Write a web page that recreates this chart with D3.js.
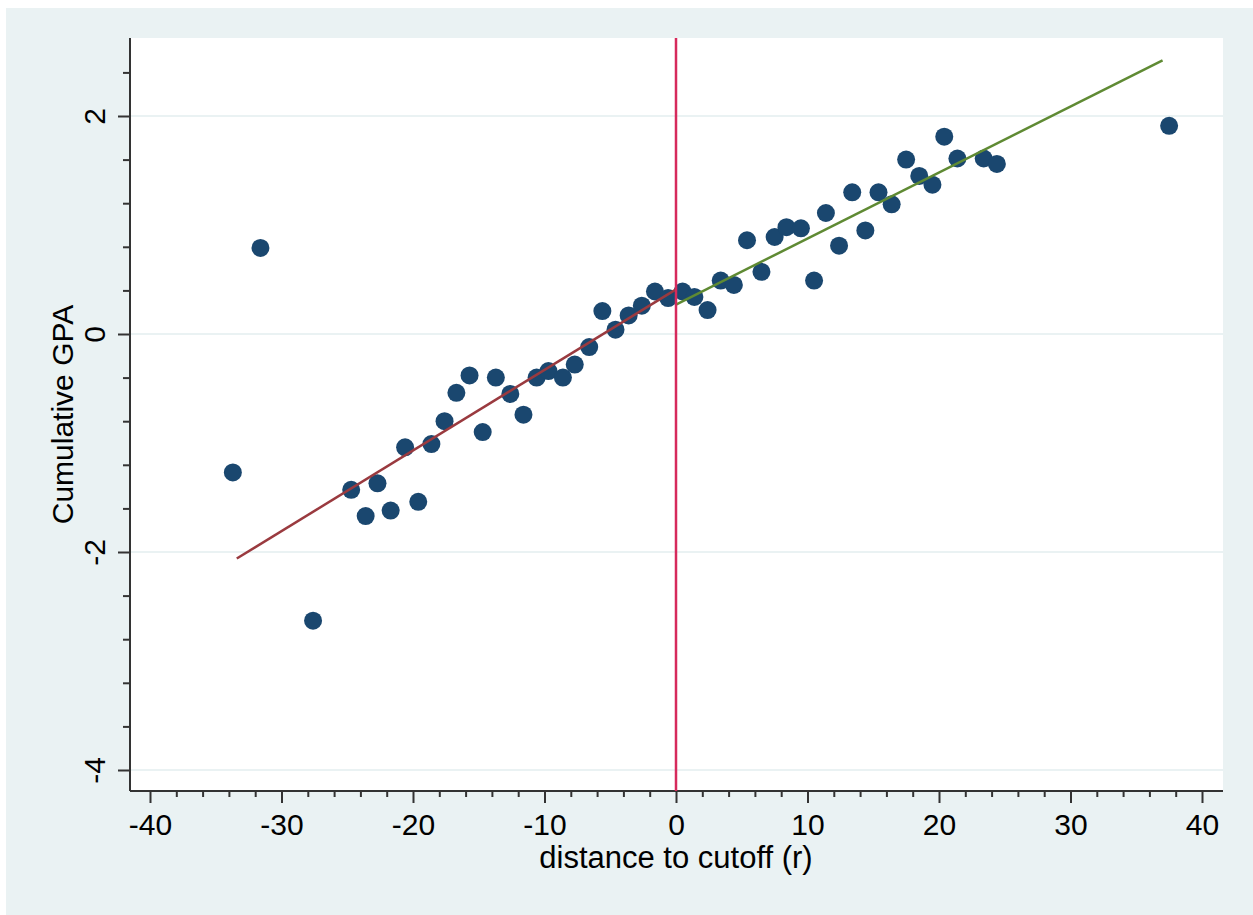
<!DOCTYPE html>
<html>
<head>
<meta charset="utf-8">
<script src="https://cdn.jsdelivr.net/npm/d3@7"></script>
<style>
  html, body { margin: 0; padding: 0; background: #fff; }
  svg { display: block; }
  text { font-family: "Liberation Sans", Arial, Helvetica, sans-serif; fill: #000; }
</style>
</head>
<body>
<svg id="chart" width="1253" height="915"></svg>
<script>
// binned means, left of cutoff
const leftX = [-33.7, -31.6, -27.6, -24.7, -23.6, -22.7, -21.7, -20.6, -19.6, -18.6,
  -17.6, -16.7, -15.7, -14.7, -13.7, -12.6, -11.6, -10.6, -9.7, -8.6,
  -7.7, -6.6, -5.6, -4.6, -3.6, -2.6, -1.6, -0.6]
const leftY = [-1.27, 0.79, -2.63, -1.43, -1.67, -1.37, -1.62, -1.04, -1.54, -1.01,
  -0.80, -0.54, -0.38, -0.90, -0.40, -0.55, -0.74, -0.40, -0.34, -0.40,
  -0.28, -0.12, 0.21, 0.04, 0.17, 0.26, 0.39, 0.33]

// binned means, right of cutoff
const rightX = [0.5, 1.4, 2.4, 3.4, 4.4, 5.4, 6.5, 7.5, 8.4, 9.5,
  10.5, 11.4, 12.4, 13.4, 14.4, 15.4, 16.4, 17.5, 18.5, 19.5,
  20.4, 21.4, 23.4, 24.4, 37.5]
const rightY = [0.39, 0.34, 0.22, 0.49, 0.45, 0.86, 0.57, 0.89, 0.98, 0.97,
  0.49, 1.11, 0.81, 1.30, 0.95, 1.30, 1.19, 1.60, 1.45, 1.37,
  1.81, 1.61, 1.61, 1.56, 1.91]

// linear fits on each side
const fitLeft = [[-33.4, -2.06], [0, 0.41]]
const fitRight = [[0, 0.27], [37.0, 2.51]]

const xTicks = [-40, -30, -20, -10, 0, 10, 20, 30, 40]
const yTicks = [-4, -2, 0, 2]

const plot = { left: 130, right: 1223, top: 38, bottom: 791 }

const svg = d3.select('#chart')

svg.append('rect')
  .attr('x', 6).attr('y', 8)
  .attr('width', 1253 - 6).attr('height', 915 - 8)
  .attr('fill', '#eaf2f3')

svg.append('rect')
  .attr('x', plot.left).attr('y', plot.top)
  .attr('width', plot.right - plot.left).attr('height', plot.bottom - plot.top)
  .attr('fill', '#fff')

const x = d3.scaleLinear().domain([-40, 40]).range([150, 1202])
const y = d3.scaleLinear().domain([-4, 2]).range([770, 116])

// grid
svg.append('g')
  .selectAll('line')
  .data(yTicks)
  .join('line')
    .attr('x1', plot.left).attr('x2', plot.right)
    .attr('y1', (d) => y(d)).attr('y2', (d) => y(d))
    .attr('stroke', '#eaf2f3')
    .attr('stroke-width', 2)

// minor ticks
const xMinor = d3.range(-40, 41, 2).filter((d) => d % 10 !== 0)
const yMinor = d3.range(-4, 2.6, 0.4).filter((d) => Math.abs(d / 2 - Math.round(d / 2)) > 1e-6)

svg.append('g')
  .attr('transform', `translate(0,${plot.bottom})`)
  .call(d3.axisBottom(x).tickValues(xMinor).tickSize(6).tickFormat(''))
  .call((g) => g.select('.domain').remove())
  .call((g) => g.selectAll('line').attr('stroke', '#333').attr('stroke-width', 2))

svg.append('g')
  .attr('transform', `translate(${plot.left},0)`)
  .call(d3.axisLeft(y).tickValues(yMinor).tickSize(7).tickFormat(''))
  .call((g) => g.select('.domain').remove())
  .call((g) => g.selectAll('line').attr('stroke', '#333').attr('stroke-width', 2))

// major axes
const xAxis = svg.append('g')
  .attr('transform', `translate(0,${plot.bottom})`)
  .call(d3.axisBottom(x).tickValues(xTicks).tickSize(12).tickPadding(11))
xAxis.select('.domain').remove()
xAxis.selectAll('line').attr('stroke', '#333').attr('stroke-width', 2)
xAxis.selectAll('text')
  .attr('font-size', 30)
  .attr('font-family', '"Liberation Sans", Arial, sans-serif')
  .text((d) => d)

const yAxis = svg.append('g')
  .attr('transform', `translate(${plot.left},0)`)
  .call(d3.axisLeft(y).tickValues(yTicks).tickSize(12))
yAxis.select('.domain').remove()
yAxis.selectAll('line').attr('stroke', '#333').attr('stroke-width', 2)
yAxis.selectAll('text')
  .attr('font-size', 30)
  .attr('font-family', '"Liberation Sans", Arial, sans-serif')
  .attr('x', null).attr('dy', null)
  .attr('text-anchor', 'middle')
  .attr('transform', 'translate(-25,0) rotate(-90)')
  .text((d) => d)

svg.append('line')
  .attr('x1', plot.left).attr('x2', plot.right)
  .attr('y1', plot.bottom).attr('y2', plot.bottom)
  .attr('stroke', '#333').attr('stroke-width', 2)
svg.append('line')
  .attr('x1', plot.left).attr('x2', plot.left)
  .attr('y1', plot.top).attr('y2', plot.bottom)
  .attr('stroke', '#333').attr('stroke-width', 2)

// points
const points = leftX.map((v, i) => [v, leftY[i]])
  .concat(rightX.map((v, i) => [v, rightY[i]]))

svg.append('g')
  .selectAll('circle')
  .data(points)
  .join('circle')
    .attr('cx', (d) => x(d[0]))
    .attr('cy', (d) => y(d[1]))
    .attr('r', 9)
    .attr('fill', '#1a476f')

// fit lines
const line = d3.line().x((d) => x(d[0])).y((d) => y(d[1]))
svg.append('path')
  .attr('d', line(fitLeft))
  .attr('fill', 'none').attr('stroke', '#9a3a3f').attr('stroke-width', 2.5)
svg.append('path')
  .attr('d', line(fitRight))
  .attr('fill', 'none').attr('stroke', '#5f8a33').attr('stroke-width', 2.5)

// cutoff
svg.append('line')
  .attr('x1', x(0)).attr('x2', x(0))
  .attr('y1', plot.top).attr('y2', plot.bottom)
  .attr('stroke', '#d62a5c').attr('stroke-width', 2.5)

// titles
svg.append('text')
  .attr('x', x(0)).attr('y', 868)
  .attr('text-anchor', 'middle')
  .attr('font-size', 31)
  .text('distance to cutoff (r)')

svg.append('text')
  .attr('transform', `translate(73,${(plot.top + plot.bottom) / 2}) rotate(-90)`)
  .attr('text-anchor', 'middle')
  .attr('font-size', 30)
  .text('Cumulative GPA')
</script>
</body>
</html>
